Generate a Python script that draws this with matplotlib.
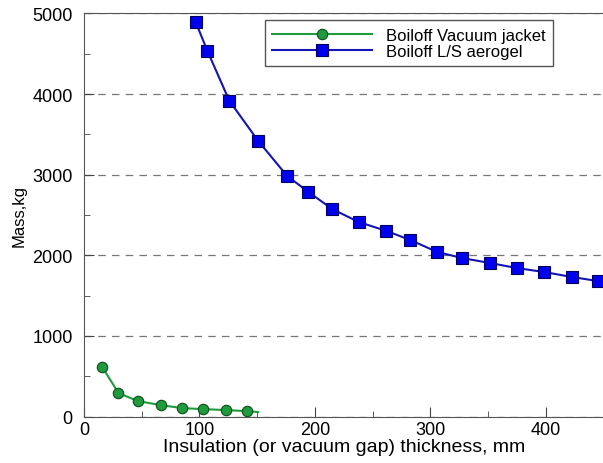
import numpy as np
import matplotlib.pyplot as plt
from matplotlib.ticker import MultipleLocator

plt.rcParams['font.family'] = ['Liberation Sans', 'DejaVu Sans']

# Boiloff vacuum jacket (last point is line end only, no marker)
vac_x = [16, 30, 47, 66.5, 85, 103.5, 122.7, 141, 151]
vac_y = [614, 292, 192, 143, 105, 93, 81, 68, 56]

# Boiloff L/S aerogel
aer_x = [96.8, 107, 126, 151, 176, 194.5, 215, 238, 262, 282.6, 306, 327.6,
         351.8, 375, 398.4, 422.6, 445]
aer_y = [4894, 4534, 3916, 3418, 2984, 2785, 2574, 2413, 2302, 2190, 2041, 1966,
         1904, 1842, 1793, 1731, 1681]

fig = plt.figure(figsize=(6.03, 4.64), dpi=100)
ax = fig.add_axes([0.139, 0.100, 0.862, 0.869])

ax.plot(vac_x, vac_y, '-', c='#1f9a3c', lw=1.5, marker='o', markersize=7.5,
        markerfacecolor='#1f9a3c', markeredgecolor='#0b4d1a', markeredgewidth=0.8,
        markevery=list(range(len(vac_x) - 1)), label='Boiloff Vacuum jacket')
ax.plot(aer_x, aer_y, 's-', c='#1414b4', lw=1.5, markersize=8.5,
        markerfacecolor='#0000ee', markeredgecolor='#000060', markeredgewidth=0.8,
        label='Boiloff L/S aerogel')

ax.set_xlim(0, 450)
ax.set_ylim(0, 5000)
ax.xaxis.set_major_locator(MultipleLocator(100))
ax.xaxis.set_minor_locator(MultipleLocator(50))
ax.yaxis.set_major_locator(MultipleLocator(1000))
ax.yaxis.set_minor_locator(MultipleLocator(500))
ax.tick_params(which='both', direction='in', color='#444444', labelsize=13)
ax.tick_params(which='major', length=7)
ax.tick_params(which='minor', length=4)
ax.tick_params(axis='y', pad=8)
ax.tick_params(axis='x', pad=3)
ax.yaxis.grid(True, which='major', ls=(0, (6, 5)), color='#777777', lw=0.9)
for s in ax.spines.values():
    s.set_color('#555555')

ax.set_xlabel('Insulation (or vacuum gap) thickness, mm', fontsize=14, labelpad=0)
ax.set_ylabel('Mass,kg', fontsize=12, labelpad=4)

leg = ax.legend(loc='upper left', bbox_to_anchor=(0.348, 0.983), fontsize=12,
                handlelength=6.0, handletextpad=0.8, borderpad=0.45,
                labelspacing=0.05, borderaxespad=0,
                fancybox=False, framealpha=1, edgecolor='#555555')
leg.get_frame().set_linewidth(1.0)

fig.savefig('out.png', dpi=100)
